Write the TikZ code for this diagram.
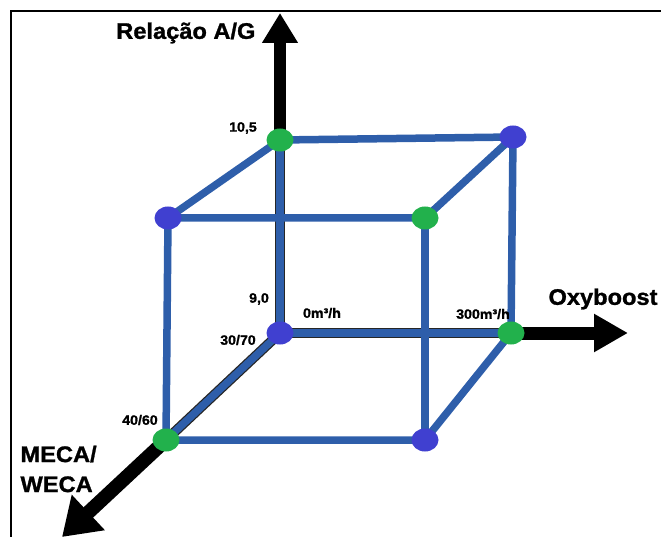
\documentclass[tikz,border=0pt]{standalone}
\usepackage{fontspec}
\setmainfont{Liberation Sans}[FakeStretch=1.05, BoldFeatures={FakeBold=1.2}]
\usetikzlibrary{arrows.meta,shapes.geometric}
\definecolor{edgeblue}{RGB}{46,94,170}
\definecolor{dotgreen}{RGB}{34,177,76}
\definecolor{dotblue}{RGB}{64,64,208}

\begin{document}
\begin{tikzpicture}
      [x = 1pt, y = -1pt,
      edge/.style = {line width = 7.5pt, color = edgeblue},
      axisedge/.style = {line width = 10pt, color = black!85},
      axis/.style = {line width = 12pt},
      gdot/.style = {
         ellipse,
         fill = dotgreen,
         inner sep = 0pt,
         minimum width = 27pt,
         minimum height = 23pt
      },
      bdot/.style = {
         ellipse,
         fill = dotblue,
         inner sep = 0pt,
         minimum width = 27pt,
         minimum height = 23pt
      },
      big/.style = {font = \fontsize{22.5}{30}\selectfont\bfseries},
      small/.style = {font = \fontsize{13.5}{15}\selectfont\bfseries}]

      \useasboundingbox (0, 0) rectangle (661, 537);
      \draw[line width = 2.2pt] (11, 537) -- (11, 11) -- (661, 11);

      \coordinate (v000) at (280, 333);
      \coordinate (v100) at (511, 333);
      \coordinate (v010) at (280, 140);
      \coordinate (v110) at (513, 137);
      \coordinate (v001) at (166, 440);
      \coordinate (v101) at (425, 440);
      \coordinate (v011) at (168, 218);
      \coordinate (v111) at (425, 218);
      \coordinate (ytip) at (280, 13);
      \coordinate (xtip) at (628, 333);
      \coordinate (ztip) at (62, 537);

      \draw[axisedge] (v010) -- (v000) -- (v100);
      \draw[axisedge] (v000) -- (v001);
      \draw[edge] (v010) -- (v000) -- (v100);
      \draw[edge] (v000) -- (v001);
      \draw[edge] (v010) -- (v110) -- (v100);
      \draw[edge] (v010) -- (v011) -- (v111) -- (v110);
      \draw[edge] (v011) -- (v001) -- (v101) -- (v100);
      \draw[edge] (v111) -- (v101);

      \draw[axis, -{Triangle[width = 34pt, length = 30pt]}] (v010) -- (ytip);
      \draw[axis, line width = 13pt, -{Triangle[width = 36pt, length = 34pt]}] (v100) -- (xtip);
      \draw[axis, line width = 14pt, -{Triangle[width = 46pt, length = 36pt]}] (v001) -- (ztip);

      \node[bdot] (p000) at (v000) {};
      \node[gdot] (p100) at (v100) {};
      \node[gdot] (p010) at (v010) {};
      \node[bdot] (p110) at (v110) {};
      \node[gdot] (p001) at (v001) {};
      \node[bdot] (p101) at (v101) {};
      \node[bdot] (p011) at (v011) {};
      \node[gdot] (p111) at (v111) {};

      \node[big, anchor = east] (ylabel) at (259, 33) {Relação A/G};
      \node[big] (xlabel) at (603, 299) {Oxyboost};
      \node[big, anchor = west, align = left] (zlabel) at (17, 469) {MECA/\\WECA};

      \node[small] (ytop) at (243, 128) {10,5};
      \node[small] (ybot) at (259, 299) {9,0};
      \node[small] (xlow) at (322, 313) {0m³/h};
      \node[small] (xhigh) at (483, 314) {300m³/h};
      \node[small] (zback) at (238, 340) {30/70};
      \node[small] (zfront) at (140, 420) {40/60};

   \end{tikzpicture}
\end{document}
